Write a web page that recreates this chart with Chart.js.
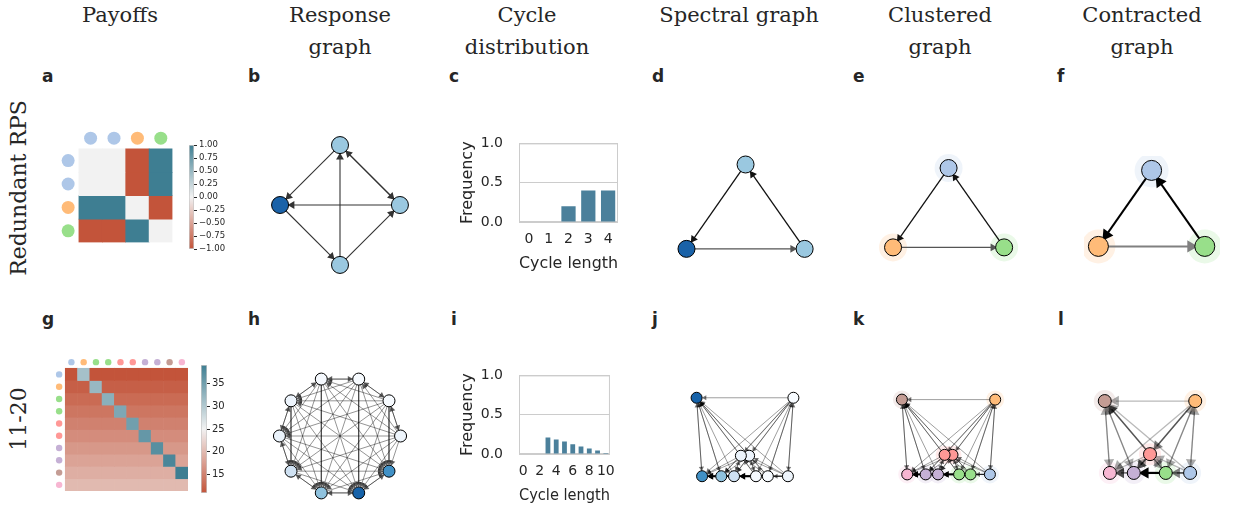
<!DOCTYPE html>
<html>
<head>
<meta charset="utf-8">
<script src="https://cdn.jsdelivr.net/npm/chart.js@4.4.1/dist/chart.umd.min.js"></script>
<style>
  body { margin: 0; background: #fff; width: 1233px; height: 507px; position: relative; overflow: hidden; color: #262626; font-family: 'DejaVu Sans', sans-serif; }
  canvas { position: absolute; }
  .hd { position: absolute; width: 240px; top: -1px; font-family: 'DejaVu Serif', serif; font-size: 21px; line-height: 32px; text-align: center; }
  .row { position: absolute; font-family: 'DejaVu Serif', serif; font-size: 22px; white-space: nowrap; transform: translate(-50%, -50%) rotate(-90deg); }
  .lt { position: absolute; font-weight: bold; font-size: 17px; line-height: 16px; }
</style>
</head>
<body>
<div class="hd" style="left:0px">Payoffs</div>
<div class="hd" style="left:220px">Response<br>graph</div>
<div class="hd" style="left:407px">Cycle<br>distribution</div>
<div class="hd" style="left:619px">Spectral graph</div>
<div class="hd" style="left:820px">Clustered<br>graph</div>
<div class="hd" style="left:1022px">Contracted<br>graph</div>
<div class="row" style="left:18px;top:188px">Redundant RPS</div>
<div class="row" style="left:18px;top:419px">11-20</div>
<div class="lt" style="left:42px;top:68px">a</div>
<div class="lt" style="left:248px;top:68px">b</div>
<div class="lt" style="left:449px;top:68px">c</div>
<div class="lt" style="left:652px;top:68px">d</div>
<div class="lt" style="left:853px;top:68px">e</div>
<div class="lt" style="left:1057px;top:68px">f</div>
<div class="lt" style="left:42px;top:311px">g</div>
<div class="lt" style="left:248px;top:311px">h</div>
<div class="lt" style="left:451px;top:311px">i</div>
<div class="lt" style="left:652px;top:311px">j</div>
<div class="lt" style="left:853px;top:311px">k</div>
<div class="lt" style="left:1058px;top:311px">l</div>

<script>
// ---- Redundant RPS ----
const rpsPayoffs = [
  [0, 0, -1, 1],
  [0, 0, -1, 1],
  [1, 1, 0, -1],
  [-1, -1, 1, 0]
];
const rpsStrategyColors = ['#aec7e8', '#aec7e8', '#ffbb78', '#98df8a'];
const rpsColorbarTicks = [-1, -0.75, -0.5, -0.25, 0, 0.25, 0.5, 0.75, 1];
const rpsCycleLengths = ['0', '1', '2', '3', '4'];
const rpsCycleFreq = [0, 0, 0.2, 0.4, 0.4];
// response graph layout (R1 top, R2 right, P left, S bottom) and mass shading
const rpsLayoutX = [0, 1, -1, 0];
const rpsLayoutY = [1, 0, 0, -1];
const rpsMassColors = ['#9ac8e0', '#9ac8e0', '#1a62a8', '#9ac8e0'];
// clusters: {R1,R2}, {P}, {S}
const rpsClusterOf = [0, 0, 1, 2];
const rpsClusterColors = ['#aec7e8', '#ffbb78', '#98df8a'];
const rpsSpectralMassColors = ['#9ac8e0', '#1a62a8', '#9ac8e0'];
const rpsSpectralX = [0, -0.7, 0.7];
const rpsSpectralY = [0.7, -0.3, -0.3];

// ---- 11-20 game ----
const payoffs1120 = [
  [11, 31, 11, 11, 11, 11, 11, 11, 11, 11],
  [12, 12, 32, 12, 12, 12, 12, 12, 12, 12],
  [13, 13, 13, 33, 13, 13, 13, 13, 13, 13],
  [14, 14, 14, 14, 34, 14, 14, 14, 14, 14],
  [15, 15, 15, 15, 15, 35, 15, 15, 15, 15],
  [16, 16, 16, 16, 16, 16, 36, 16, 16, 16],
  [17, 17, 17, 17, 17, 17, 17, 37, 17, 17],
  [18, 18, 18, 18, 18, 18, 18, 18, 38, 18],
  [19, 19, 19, 19, 19, 19, 19, 19, 19, 39],
  [20, 20, 20, 20, 20, 20, 20, 20, 20, 20]
];
const strategyColors1120 = ['#aec7e8', '#ffbb78', '#98df8a', '#98df8a', '#ff9896', '#ff9896', '#c5b0d5', '#c5b0d5', '#c49c94', '#f7b6d2'];
const colorbarTicks1120 = [15, 20, 25, 30, 35];
const cycleLengths1120 = ['0', '1', '2', '3', '4', '5', '6', '7', '8', '9', '10'];
const cycleFreq1120 = [0, 0, 0, 0.21, 0.185, 0.16, 0.125, 0.096, 0.071, 0.046, 0.014];
const massColors1120 = ['#eef5fc', '#f7fbff', '#f7fbff', '#f5f9fe', '#edf4fc', '#ebf3fb', '#cfe1f2', '#8fc2de', '#1662a9', '#4191c6'];
const spectralX1120 = [0.47, 0.53, 0.25, 0.12, 0.045, -0.045, -0.12, -0.26, -0.53, -0.47];
const spectralY1120 = [-0.44, 0.44, -0.44, -0.44, -0.21, -0.21, -0.44, -0.44, 0.44, -0.44];
const strongTransitions1120 = [[3, 6], [7, 9]];
const clusterOf1120 = [0, 1, 2, 2, 3, 3, 4, 4, 5, 6];
const clusterColors1120 = ['#aec7e8', '#ffbb78', '#98df8a', '#ff9896', '#c5b0d5', '#c49c94', '#f7b6d2'];
const strongClusterEdges1120 = [[2, 4]];
const mediumClusterEdges1120 = [[1, 3], [3, 5], [3, 4], [0, 2]];

// ---------------------------------------------------------------
Chart.defaults.font.family = "'DejaVu Sans', sans-serif";
Chart.defaults.color = '#262626';
Chart.defaults.animation = false;
Chart.defaults.responsive = false;
Chart.defaults.events = [];
Chart.defaults.plugins.legend.display = false;
Chart.defaults.plugins.tooltip.enabled = false;

const RED = [195, 84, 58], MID = [242, 242, 242], TEAL = [62, 126, 146];
const BAR_COLOR = '#4b809b';

function mix(a, b, t) {
  return a.map((v, i) => Math.round(v + (b[i] - v) * t));
}
function divColor(t) {
  t = Math.max(-1, Math.min(1, t));
  const c = t < 0 ? mix(MID, RED, -t) : mix(MID, TEAL, t);
  return `rgb(${c})`;
}
const rpsColor = v => divColor(v);
const color1120 = v => divColor((v - 25) / 14);

function withAlpha(hex, a) {
  const n = parseInt(hex.slice(1), 16);
  return `rgba(${n >> 16},${(n >> 8) & 255},${n & 255},${a})`;
}
const minusFmt = d => v => (v < 0 ? '\u2212' : '') + Math.abs(v).toFixed(d);

function addCanvas(left, top, w, h) {
  const c = document.createElement('canvas');
  c.width = w; c.height = h;
  c.style.left = left + 'px';
  c.style.top = top + 'px';
  c.style.width = w + 'px';
  c.style.height = h + 'px';
  document.body.appendChild(c);
  return c;
}

// heatmap: floating bars, one dataset per row, dots for strategy colours
function heatmap(left, top, cs, matrix, toColor, dotColors, dotR, dotGap) {
  const n = matrix.length;
  const canvas = addCanvas(left - cs, top - cs, (n + 1) * cs, (n + 1) * cs);
  const datasets = matrix.map((row, r) => ({
    type: 'bar',
    data: row.map((v, c) => ({ x: c + 0.5, y: [n - 1 - r, n - r] })),
    backgroundColor: row.map(v => toColor(v)),
    borderWidth: 0,
    barPercentage: 1,
    categoryPercentage: 1,
    grouped: false
  }));
  datasets.push({
    type: 'scatter',
    data: dotColors.map((_, c) => ({ x: c + 0.5, y: n + dotGap })),
    pointRadius: dotR, pointBackgroundColor: dotColors, pointBorderWidth: 0, order: -1
  });
  datasets.push({
    type: 'scatter',
    data: dotColors.map((_, r) => ({ x: -dotGap, y: n - 0.5 - r })),
    pointRadius: dotR, pointBackgroundColor: dotColors, pointBorderWidth: 0, order: -1
  });
  new Chart(canvas, {
    type: 'bar',
    data: { datasets },
    options: {
      layout: { padding: 0 },
      scales: {
        x: { type: 'linear', min: -1, max: n, offset: false, display: false, ticks: { stepSize: 1 } },
        y: { type: 'linear', min: 0, max: n + 1, display: false }
      }
    }
  });
}

function colorbar(left, top, w, h, vmin, vmax, ticks, toColor, fontSize, fmt) {
  const pad = 8, axisW = 36;
  const canvas = addCanvas(left, top - pad, w + axisW, h + 2 * pad);
  new Chart(canvas, {
    type: 'bar',
    data: {
      labels: [''],
      datasets: [{
        data: [[vmin, vmax]],
        backgroundColor: ctx => {
          const chart = ctx.chart;
          if (!chart.chartArea) return null;
          const y = chart.scales.y;
          const g = chart.ctx.createLinearGradient(0, y.getPixelForValue(vmin), 0, y.getPixelForValue(vmax));
          for (let k = 0; k <= 20; k++) g.addColorStop(k / 20, toColor(vmin + (vmax - vmin) * k / 20));
          return g;
        },
        borderColor: 'rgba(0,0,0,0.22)',
        borderWidth: 1,
        borderSkipped: false,
        barPercentage: 1,
        categoryPercentage: 1
      }]
    },
    options: {
      layout: { padding: { top: pad, bottom: pad, left: 0, right: 0 } },
      scales: {
        x: { display: false },
        y: {
          position: 'right', min: vmin, max: vmax,
          afterFit: s => { s.width = axisW; },
          afterBuildTicks: s => { s.ticks = ticks.map(v => ({ value: v })); },
          ticks: { padding: 2, autoSkip: false, font: { size: fontSize }, callback: fmt },
          grid: { drawOnChartArea: false, drawTicks: true, tickLength: 3, color: '#262626' },
          border: { display: false }
        }
      }
    }
  });
}

const framePlugin = {
  id: 'frame',
  beforeDatasetsDraw(chart) {
    const { ctx, chartArea: a } = chart;
    ctx.save();
    ctx.strokeStyle = '#cccccc';
    ctx.lineWidth = 1;
    ctx.strokeRect(a.left + 0.5, a.top + 0.5, a.width - 1, a.height - 1);
    ctx.restore();
  }
};

function cycleChart(top, labels, values, every, barPct) {
  const canvas = addCanvas(454, top - 10, 170, 158);
  new Chart(canvas, {
    type: 'bar',
    data: { labels, datasets: [{ data: values, backgroundColor: BAR_COLOR, barPercentage: barPct, categoryPercentage: 1 }] },
    options: {
      layout: { padding: { top: 10, right: 6, left: 0, bottom: 0 } },
      scales: {
        x: {
          grid: { display: false, drawTicks: false },
          border: { display: false },
          ticks: { padding: 9, font: { size: 14 }, autoSkip: false, maxRotation: 0, callback: (v, i) => (i % every === 0 ? labels[i] : '') },
          title: { display: true, text: 'Cycle length', font: { size: 16 }, padding: { top: 4, bottom: 4 } },
          afterFit: s => { s.height = 55; }
        },
        y: {
          min: 0, max: 1,
          ticks: { stepSize: 0.5, padding: 16, font: { size: 14 }, callback: v => v.toFixed(1) },
          grid: { color: '#cccccc', drawTicks: false },
          border: { display: false },
          title: { display: true, text: 'Frequency', font: { size: 16 }, padding: { top: 4, bottom: 4 } },
          afterFit: s => { s.width = 65; }
        }
      }
    },
    plugins: [framePlugin]
  });
}

// edges i -> j when j does at least as well as i against a population of i
function responseEdges(P) {
  const out = [];
  P.forEach((_, i) => P.forEach((__, j) => {
    if (i !== j && P[j][i] >= P[i][i]) out.push([i, j]);
  }));
  return out;
}
function contractEdges(edges, clusterOf) {
  const seen = new Set(), out = [];
  edges.forEach(([i, j]) => {
    const a = clusterOf[i], b = clusterOf[j], key = a + '-' + b;
    if (a !== b && !seen.has(key)) { seen.add(key); out.push([a, b]); }
  });
  return out;
}
function clusterMeans(vals, clusterOf, k) {
  return Array.from({ length: k }, (_, c) => {
    const m = vals.filter((_, i) => clusterOf[i] === c);
    return m.reduce((s, v) => s + v, 0) / m.length;
  });
}
const has = (list, e) => list.some(p => p[0] === e[0] && p[1] === e[1]);

function graph(cfg) {
  const { cx, cy, s, w, h, xs, ys, colors, r, edges, style, halo } = cfg;
  const left = Math.round(cx - w / 2), top = Math.round(cy - h / 2);
  const canvas = addCanvas(left, top, w, h);
  const x0 = (left - cx) / s, x1 = (left + w - cx) / s;
  const y1 = (cy - top) / s, y0 = (cy - top - h) / s;
  const datasets = [{
    data: xs.map((x, i) => ({ x, y: ys[i] })),
    pointRadius: r, pointBackgroundColor: colors, pointBorderColor: '#000', pointBorderWidth: 1, order: 0
  }];
  const heads = [], rot = [], hr = [], hc = [];
  edges.forEach(e => {
    const st = style(e);
    const dx = xs[e[1]] - xs[e[0]], dy = ys[e[1]] - ys[e[0]];
    const len = Math.hypot(dx, dy);
    const back = (r + 0.5 + st.head) / s;
    const hx = xs[e[1]] - dx / len * back, hy = ys[e[1]] - dy / len * back;
    heads.push({ x: hx, y: hy });
    rot.push(Math.atan2(dx, dy) * 180 / Math.PI);
    hr.push(st.head);
    hc.push(st.headColor);
    datasets.push({
      data: [{ x: xs[e[0]], y: ys[e[0]] }, { x: hx, y: hy }],
      showLine: true, borderColor: st.color, borderWidth: st.width, pointRadius: 0, order: 2
    });
  });
  datasets.push({
    data: heads, pointStyle: 'triangle', pointRotation: rot, pointRadius: hr,
    pointBackgroundColor: hc, pointBorderWidth: 0, order: 1
  });
  if (halo) {
    datasets.push({
      data: xs.map((x, i) => ({ x, y: ys[i] })),
      pointRadius: halo, pointBackgroundColor: colors.map(c => withAlpha(c, 0.2)), pointBorderWidth: 0, order: 3
    });
  }
  new Chart(canvas, {
    type: 'scatter',
    data: { datasets },
    options: {
      layout: { padding: 0 },
      scales: {
        x: { type: 'linear', min: x0, max: x1, display: false },
        y: { type: 'linear', min: y0, max: y1, display: false }
      }
    }
  });
}

// ---- row 1: Redundant RPS ----
heatmap(75, 145, 26, rpsPayoffs, rpsColor, rpsStrategyColors, 6.5, 0.46);
colorbar(189, 145, 5, 104, -1, 1, rpsColorbarTicks, rpsColor, 8.5, minusFmt(2));
cycleChart(129, rpsCycleLengths, rpsCycleFreq, 1, 0.72);

const rpsEdges = responseEdges(rpsPayoffs);
graph({
  cx: 340, cy: 205, s: 67, w: 180, h: 180, xs: rpsLayoutX, ys: rpsLayoutY,
  colors: rpsMassColors, r: 8.5, edges: rpsEdges,
  style: () => ({ color: '#333', width: 1.1, head: 4.5, headColor: '#333' })
});

const rpsClusterEdges = contractEdges(rpsEdges, rpsClusterOf);
const triStyle = e => ({ color: e[0] === 1 ? '#555' : '#111', width: 1.3, head: 4.5, headColor: e[0] === 1 ? '#555' : '#111' });
graph({
  cx: 745.5, cy: 223.5, s: 95, w: 170, h: 170, xs: rpsSpectralX, ys: rpsSpectralY,
  colors: rpsSpectralMassColors, r: 8.5, edges: rpsClusterEdges, style: triStyle
});
graph({
  cx: 948.5, cy: 223.5, s: 95, w: 170, h: 170, xs: rpsSpectralX, ys: rpsSpectralY,
  colors: rpsClusterColors, r: 8.5, edges: rpsClusterEdges, style: triStyle, halo: 14
});
graph({
  cx: 1151.5, cy: 223.5, s: 95, w: 170, h: 170, xs: rpsSpectralX, ys: rpsSpectralY,
  colors: rpsClusterColors, r: 10, edges: rpsClusterEdges, halo: 17,
  style: e => ({ color: e[0] === 1 ? '#808080' : '#000', width: 2, head: 7, headColor: e[0] === 1 ? '#808080' : '#000' })
});

// ---- row 2: 11-20 ----
heatmap(62, 365, 13, payoffs1120, color1120, strategyColors1120, 3.2, 0.5);
colorbar(201, 365, 6, 128, 11, 39, colorbarTicks1120, color1120, 10, v => String(v));
cycleChart(361, cycleLengths1120, cycleFreq1120, 2, 0.58);

const edges1120 = responseEdges(payoffs1120);
const n1120 = payoffs1120.length;
const circleX = payoffs1120.map((_, k) => Math.cos(2 * Math.PI * k / n1120));
const circleY = payoffs1120.map((_, k) => Math.sin(2 * Math.PI * k / n1120));
graph({
  cx: 340, cy: 436, s: 66, w: 170, h: 150, xs: circleX, ys: circleY,
  colors: massColors1120, r: 6, edges: edges1120,
  style: () => ({ color: 'rgba(0,0,0,0.42)', width: 1, head: 3.5, headColor: 'rgba(40,40,40,0.75)' })
});

const spectralStyle = e => has(strongTransitions1120, e)
  ? { color: '#000', width: 2, head: 4, headColor: '#000' }
  : { color: 'rgba(0,0,0,0.38)', width: 1, head: 3, headColor: 'rgba(0,0,0,0.55)' };
graph({
  cx: 745, cy: 437, s: 100, w: 150, h: 120, xs: spectralX1120, ys: spectralY1120,
  colors: massColors1120, r: 5.5, edges: edges1120, style: spectralStyle
});
graph({
  cx: 948.5, cy: 437, s: 100, w: 150, h: 120, xs: spectralX1120, ys: spectralY1120,
  colors: strategyColors1120, r: 5.5, edges: edges1120, style: spectralStyle, halo: 9
});

const nClusters = clusterColors1120.length;
const clusterX = clusterMeans(spectralX1120, clusterOf1120, nClusters);
const clusterY = clusterMeans(spectralY1120, clusterOf1120, nClusters);
graph({
  cx: 1150, cy: 437, s: 100, w: 150, h: 120, xs: clusterX, ys: clusterY,
  colors: clusterColors1120, r: 6.5, edges: contractEdges(edges1120, clusterOf1120), halo: 11,
  style: e => has(strongClusterEdges1120, e)
    ? { color: '#000', width: 2.2, head: 6.5, headColor: '#000' }
    : has(mediumClusterEdges1120, e)
      ? { color: 'rgba(0,0,0,0.55)', width: 1.5, head: 6, headColor: 'rgba(0,0,0,0.5)' }
      : { color: 'rgba(0,0,0,0.28)', width: 1.3, head: 6, headColor: 'rgba(0,0,0,0.33)' }
});
</script>
</body>
</html>
